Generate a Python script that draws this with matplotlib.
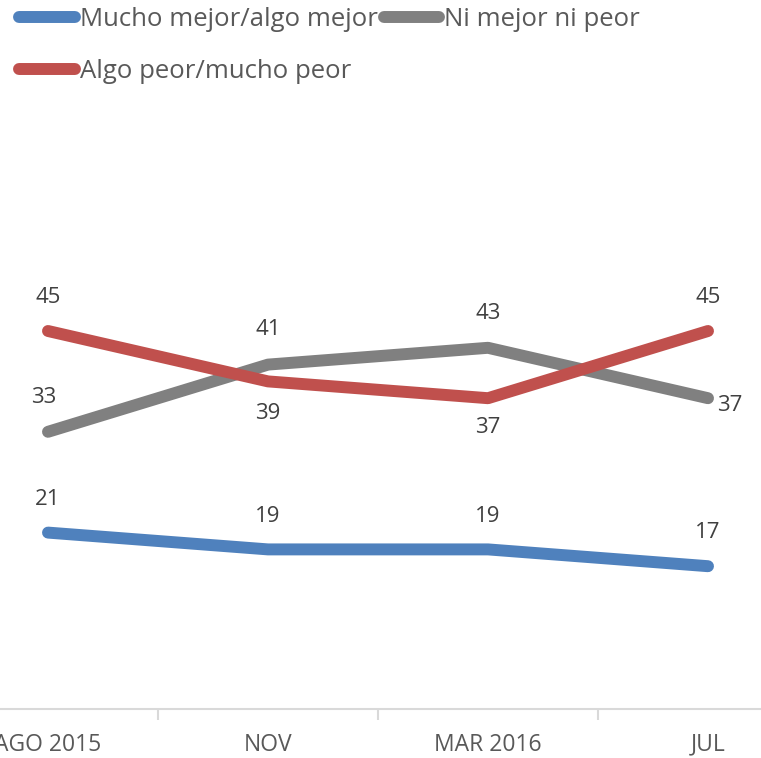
import matplotlib
matplotlib.use("Agg")
import matplotlib.pyplot as plt
from matplotlib.lines import Line2D

# data
periods = ["AGO 2015", "NOV", "MAR 2016", "JUL"]
mejor = [21, 19, 19, 17]
igual = [33, 41, 43, 37]
peor = [45, 39, 37, 45]

# label placement per point: (dx, dy) in points
mejor_off = [(0, 24), (0, 24), (0, 24), (0, 24)]
igual_off = [(-3, 25), (0, 25), (0, 25), (16, -5)]
peor_off = [(0, 24), (0, -23), (0, -21), (0, 24)]

blue, gray, red = "#4f81bd", "#808080", "#c0504d"

fig = plt.figure(figsize=(7.61, 7.58), dpi=100)
ax = fig.add_axes([-62 / 761, 49 / 758, 880 / 761, 672 / 758])

x = range(len(periods))
opts = {"lw": 8.6, "solid_capstyle": "round", "solid_joinstyle": "round"}
series = [
    (mejor, blue, mejor_off),
    (igual, gray, igual_off),
    (peor, red, peor_off),
]
for vals, col, offs in series:
    ax.plot(x, vals, color=col, **opts)
    for xi, v, (dx, dy) in zip(x, vals, offs):
        ax.annotate(str(v), (xi, v), xytext=(dx, dy), textcoords="offset points",
                    ha="center", va="center", fontsize=16, color="#404040",
                    family="Open Sans")

ax.set_xlim(-0.5, 3.5)
ax.set_ylim(0, 80)
ax.set_yticks([])
for s in ["top", "right", "left"]:
    ax.spines[s].set_visible(False)
ax.spines["bottom"].set_color("#d9d9d9")
ax.spines["bottom"].set_linewidth(1.5)

ax.set_xticks(list(x))
ax.set_xticklabels(periods, fontsize=16.5, color="#595959", family="Open Sans")
ax.tick_params(axis="x", which="major", length=0, pad=17)
ax.set_xticks([-0.5, 0.5, 1.5, 2.5, 3.5], minor=True)
ax.tick_params(axis="x", which="minor", length=8, color="#d9d9d9", width=1.5)

handles = [
    Line2D([], [], color=blue, lw=8.6, solid_capstyle="round"),
    Line2D([], [], color=red, lw=8.6, solid_capstyle="round"),
    Line2D([], [], color=gray, lw=8.6, solid_capstyle="round"),
]
labels = ["Mucho mejor/algo mejor", "Algo peor/mucho peor", "Ni mejor ni peor"]
fig.legend(handles, labels, loc="upper left", bbox_to_anchor=(0.012, 1.004),
           ncol=2, frameon=False, handlelength=2.15, handletextpad=0.2,
           columnspacing=0.25, labelspacing=1.05, borderaxespad=0.0,
           prop={"family": "Open Sans", "size": 18.5}, labelcolor="#595959")

fig.savefig("out.png", dpi=100)
